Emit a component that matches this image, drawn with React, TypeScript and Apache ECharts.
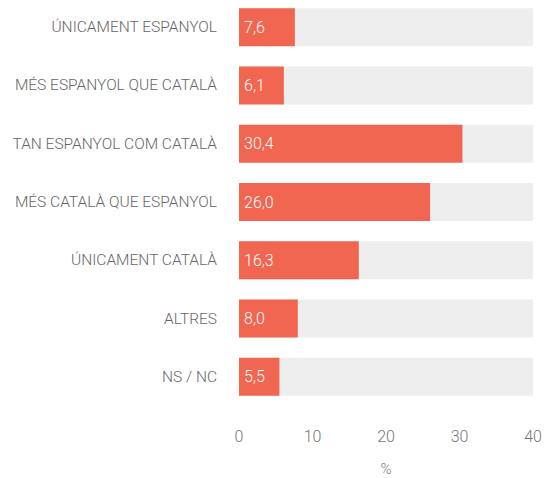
import React, { useEffect, useRef } from "react";
import * as echarts from "echarts";

const categories = [
  "ÚNICAMENT ESPANYOL",
  "MÉS ESPANYOL QUE CATALÀ",
  "TAN ESPANYOL COM CATALÀ",
  "MÉS CATALÀ QUE ESPANYOL",
  "ÚNICAMENT CATALÀ",
  "ALTRES",
  "NS / NC",
];
const values = [7.6, 6.1, 30.4, 26.0, 16.3, 8.0, 5.5];
const axisName = "%";

export default function App() {
  const ref = useRef<HTMLDivElement>(null);
  useEffect(() => {
    const chart = echarts.init(ref.current!, null, { renderer: "svg" });
    const font = "Roboto, sans-serif";
    chart.setOption({
      animation: false,
      grid: { left: 239, right: 12, top: -2, bottom: 72, containLabel: false, outerBoundsMode: "none" },
      xAxis: {
        type: "value",
        min: 0,
        max: 40,
        interval: 10,
        name: axisName,
        nameLocation: "middle",
        nameGap: 55,
        nameTextStyle: { color: "#777", fontSize: 15, fontFamily: font, fontWeight: 300 },
        axisLine: { show: false },
        axisTick: { show: false },
        splitLine: { show: false },
        axisLabel: { color: "#777", fontSize: 16, fontFamily: font, fontWeight: 300, margin: 22 },
      },
      yAxis: {
        type: "category",
        data: categories,
        inverse: true,
        axisLine: { show: false },
        axisTick: { show: false },
        axisLabel: { color: "#666", fontSize: 15.5, fontFamily: font, fontWeight: 300, margin: 22 },
      },
      series: [
        {
          type: "bar",
          data: values,
          barWidth: 38,
          itemStyle: { color: "#f06650" },
          showBackground: true,
          backgroundStyle: { color: "#eeeeee" },
          label: {
            show: true,
            position: "insideLeft",
            distance: 5,
            color: "#fff",
            fontSize: 16,
            fontFamily: font,
            fontWeight: 300,
            formatter: (p: any) => p.value.toFixed(1).replace(".", ","),
          },
        },
      ],
    });
    return () => chart.dispose();
  }, []);
  return <div ref={ref} style={{ width: 545, height: 478, position: "absolute", left: 0, top: 0 }} />;
}
